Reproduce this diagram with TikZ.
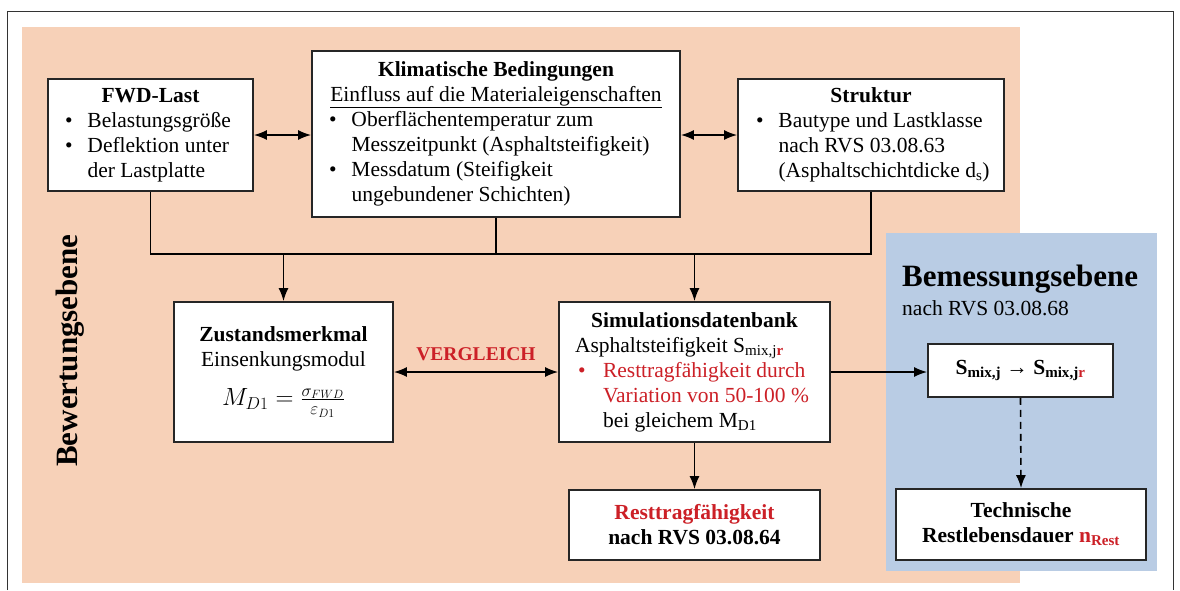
\documentclass[tikz,border=0pt]{standalone}
\usepackage{fontspec}
\setmainfont{Liberation Serif}
\usetikzlibrary{arrows.meta}
\definecolor{peach}{RGB}{247,209,184}
\definecolor{lblue}{RGB}{185,204,228}
\definecolor{dred}{RGB}{204,32,39}
\newcommand{\bitem}[2]{\makebox[#1][l]{\makebox[22.5pt][l]{\textbullet}#2}}
\newcommand{\bcont}[2]{\makebox[#1][l]{\hspace*{22.5pt}#2}}
\begin{document}
\begin{tikzpicture}[x=1pt,y=-1pt,
  box/.style={draw=black!85, line width=1.8pt, fill=white, align=center, inner sep=0pt, font=\fontsize{21.5}{25}\selectfont},
  conn/.style={line width=1.6pt, black},
  arr/.style={conn, -{Latex[length=13pt,width=10pt]}},
  darr/.style={conn, {Latex[length=13pt,width=10pt]}-{Latex[length=13pt,width=10pt]}},
]
\useasboundingbox (0,0) rectangle (1180,590);
\fill[white] (0,0) rectangle (1180,590);
\fill[peach] (22,27) rectangle (1020,583);
\fill[lblue] (886,233) rectangle (1157,571);
\draw[line width=1.2pt, black!80] (7.5,590) -- (7.5,11.5) -- (1173.5,11.5) -- (1173.5,590);

\node[box, minimum width=205pt, minimum height=112pt] (fwd) at (150.5,135)
 {\textbf{FWD-Last}\\ \bitem{171pt}{Belastungsgröße}\\ \bitem{171pt}{Deflektion unter}\\ \bcont{171pt}{der Lastplatte}};
\node[box, minimum width=368pt, minimum height=166pt] (klim) at (496,134)
 {\textbf{Klimatische Bedingungen}\\ \underline{Einfluss auf die Materialeigenschaften}\\
  \bitem{334pt}{Oberflächentemperatur zum}\\ \bcont{334pt}{Messzeitpunkt (Asphaltsteifigkeit)}\\
  \bitem{334pt}{Messdatum (Steifigkeit}\\ \bcont{334pt}{ungebundener Schichten)}};
\node[box, minimum width=266pt, minimum height=112pt] (struk) at (871,135)
 {\textbf{Struktur}\\ \bitem{230pt}{Bautype und Lastklasse}\\ \bcont{230pt}{nach RVS 03.08.63}\\ \bcont{230pt}{(Asphaltschichtdicke d\textsubscript{s})}};
\node[box, minimum width=219pt, minimum height=140pt] (zust) at (283.5,372)
 {\textbf{Zustandsmerkmal}\\ Einsenkungsmodul\\[14pt] \fontsize{23}{25}\selectfont$M_{D1} = \frac{\sigma_{FWD}}{\varepsilon_{D1}}$};
\node[box, minimum width=271pt, minimum height=140pt] (sim) at (694.5,372)
 {\textbf{Simulationsdatenbank}\\
  \makebox[239pt][l]{Asphaltsteifigkeit S\textsubscript{mix,j\textcolor{dred}{\textbf{r}}}}\\
  \makebox[239pt][l]{\hspace*{3pt}\makebox[25pt][l]{\textcolor{dred}{\textbullet}}\textcolor{dred}{Resttragfähigkeit durch}}\\
  \makebox[239pt][l]{\hspace*{28pt}\textcolor{dred}{Variation von 50-100 \%}}\\
  \makebox[239pt][l]{\hspace*{28pt}bei gleichem M\textsubscript{D1}}};
\node[box, minimum width=185pt, minimum height=53pt] (smix) at (1020.5,370.5)
 {\textbf{S\textsubscript{mix,j}} → \textbf{S\textsubscript{mix,j\textcolor{dred}{r}}}};
\node[box, minimum width=251pt, minimum height=70pt] (rest) at (694.5,525)
 {\textcolor{dred}{\textbf{Resttragfähigkeit}}\\ \textbf{nach RVS 03.08.64}};
\node[box, minimum width=250pt, minimum height=71pt] (tech) at (1021,524.5)
 {\textbf{Technische}\\ \textbf{Restlebensdauer \textcolor{dred}{n\textsubscript{Rest}}}};

\node[rotate=90, inner sep=0pt, font=\bfseries\fontsize{31}{31}\selectfont] (bew) at (70,350.5) {Bewertungsebene};
\node[anchor=base west, inner sep=0pt, font=\bfseries\fontsize{31}{31}\selectfont] (bem) at (902,286) {Bemessungsebene};
\node[anchor=base west, inner sep=0pt, font=\fontsize{21.5}{25}\selectfont] (bemrvs) at (902,315) {nach RVS 03.08.68};

\coordinate (busy) at (0,254);
\draw[conn] (fwd.south) -- (fwd.south |- busy) -- (struk.south |- busy) -- (struk.south);
\draw[conn] (klim.south) -- (klim.south |- busy);
\draw[arr] (zust.north |- busy) -- (zust.north);
\draw[arr] (sim.north |- busy) -- (sim.north);
\draw[darr] (fwd.east) -- (fwd.east -| klim.west);
\draw[darr] (struk.west -| klim.east) -- (struk.west);
\draw[darr] (zust.east) -- (sim.west);
\node[anchor=base, inner sep=0pt, text=dred, font=\bfseries\fontsize{19.5}{20}\selectfont] (vgl) at (476,360) {VERGLEICH};
\draw[arr] (sim.east) -- (sim.east -| smix.west);
\draw[arr] (sim.south) -- (rest.north);
\draw[arr, dash pattern=on 7pt off 5pt] (smix.south) -- (tech.north);
\end{tikzpicture}
\end{document}
